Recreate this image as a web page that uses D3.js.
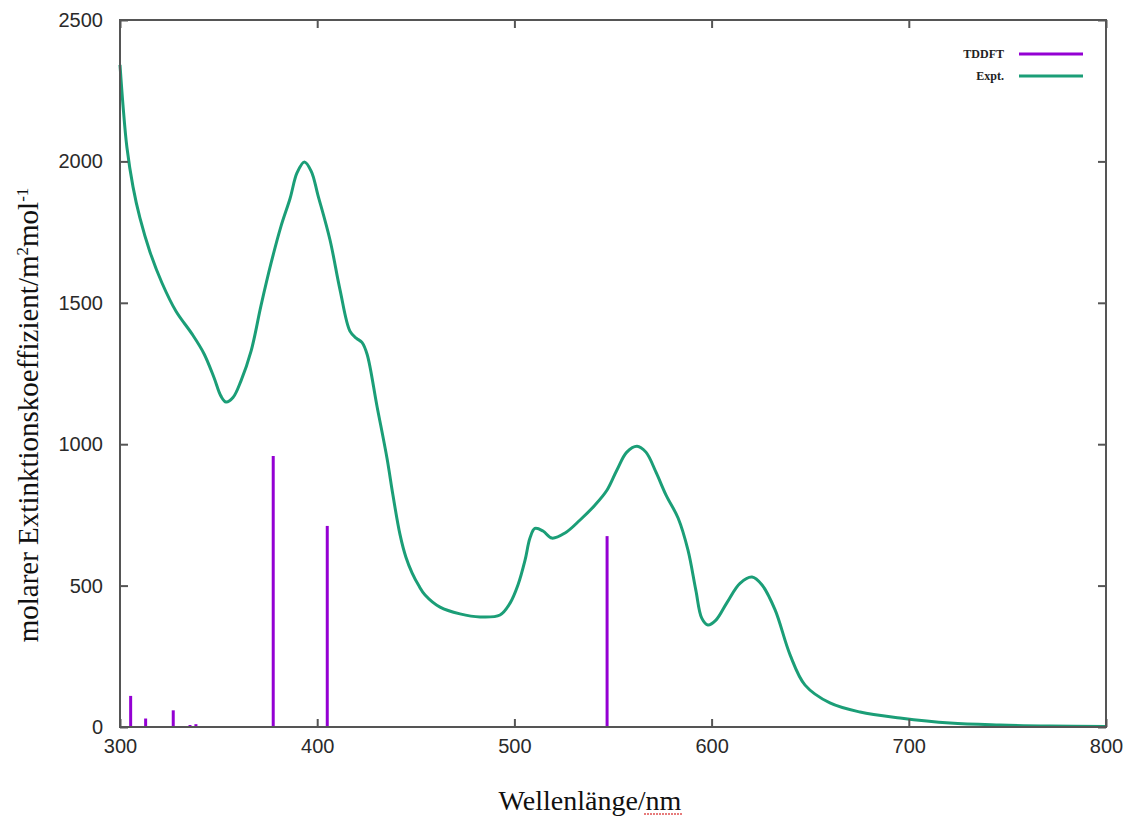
<!DOCTYPE html>
<html><head><meta charset="utf-8">
<script src="https://cdn.jsdelivr.net/npm/d3@7"></script>
<style>body{margin:0;background:#fff}svg{display:block}</style>
</head><body><svg id="c" width="1130" height="816"></svg>
<script>
const xTicks = [300, 400, 500, 600, 700, 800];
const yTicks = [0, 500, 1000, 1500, 2000, 2500];
const exptWavelength = [300,301.5,303.5,306.6,310.1,315.2,321.3,328.4,336.5,342.6,347.7,351.2,353.8,357.3,361.4,366.5,371.5,376.6,381.7,386.2,389.8,393.5,397,400.4,406.5,411.6,416.6,419.8,422.7,425.3,430.3,435.4,438.4,442,445,448.1,451.5,454.7,462.3,472.4,482.6,492.7,497.8,501.8,505.4,507.9,510.4,514.5,519,525.7,533.3,540.9,547,552,557,562.2,566.7,571.8,576.9,583,588,592,595,598.1,602.2,607.8,614.4,620.5,625.6,632.2,639.8,647.4,660,675.3,695.5,720.9,746.2,771.6,800];
const exptValue = [2341,2200,2050,1910,1800,1680,1570,1470,1390,1320,1235,1170,1149,1165,1225,1330,1490,1640,1772,1868,1960,1998,1965,1880,1722,1545,1400,1375,1360,1318,1135,950,820,680,600,545,500,467,424,400,389,396,438,502,590,668,702,693,668,686,732,785,838,909,972,993,972,901,820,739,626,484,385,361,378,440,508,530,502,414,255,148,85,53,32,14,7,3.5,2];
const tddftWavelength = [305.4,313,327,335.5,338.5,348.7,357,366,377.7,405.1,547];
const tddftValue = [110,30,59,7,10,3,2,2,958,711,675];
const legendLabels = ["TDDFT", "Expt."];

const svg = d3.select("#c");
const L = 120, R = 1106, T = 20, B = 727;
const x = d3.scaleLinear().domain([300, 800]).range([L, R]);
const y = d3.scaleLinear().domain([0, 2500]).range([B, T]);
const green = "#1b9e77", purple = "#9400d3", frame = "#555";

// TDDFT sticks
svg.append("g").selectAll("line").data(tddftWavelength.map((w,i)=>({w, v:tddftValue[i]})))
  .join("line")
  .attr("x1", d=>x(d.w)).attr("x2", d=>x(d.w))
  .attr("y1", y(0)).attr("y2", d=>y(d.v))
  .attr("stroke", purple).attr("stroke-width", 3);

// Expt curve
const pts = exptWavelength.map((w,i)=>[w, exptValue[i]]);
svg.append("path").datum(pts)
  .attr("d", d3.line().x(d=>x(d[0])).y(d=>y(d[1])).curve(d3.curveCatmullRom.alpha(0.5)))
  .attr("fill","none").attr("stroke", green).attr("stroke-width", 3);

// Axes (ticks inward on all sides)
const tickFont = "Liberation Sans, Arial, sans-serif";
const gx = svg.append("g").attr("transform", `translate(0,${B})`)
  .call(d3.axisBottom(x).tickValues(xTicks).tickSize(-8).tickPadding(12).tickFormat(d3.format("d")));
const gxt = svg.append("g").attr("transform", `translate(0,${T})`)
  .call(d3.axisTop(x).tickValues(xTicks).tickSize(-8).tickFormat(""));
const gy = svg.append("g").attr("transform", `translate(${L},0)`)
  .call(d3.axisLeft(y).tickValues(yTicks).tickSize(-8).tickPadding(17).tickFormat(d3.format("d")));
const gyr = svg.append("g").attr("transform", `translate(${R},0)`)
  .call(d3.axisRight(y).tickValues(yTicks).tickSize(-8).tickFormat(""));
[gx,gxt,gy,gyr].forEach(g=>{
  g.select(".domain").remove();
  g.selectAll(".tick line").attr("stroke", frame).attr("stroke-width", 2);
  g.selectAll("text").attr("font-family", tickFont).attr("font-size", 20).attr("fill", "#2a2a2a");
});
svg.append("rect").attr("x", L).attr("y", T).attr("width", R-L).attr("height", B-T)
  .attr("fill","none").attr("stroke", frame).attr("stroke-width", 2);

// Legend
const lg = svg.append("g");
[purple, green].forEach((c,i)=>{
  const yy = 54 + i*22;
  lg.append("text").attr("x", 1004).attr("y", yy+4).attr("text-anchor","end")
    .attr("font-family","Liberation Serif, Times New Roman, serif").attr("font-size", 12).attr("font-weight","bold")
    .attr("fill","#222").text(legendLabels[i]);
  lg.append("line").attr("x1", 1019).attr("x2", 1083).attr("y1", yy).attr("y2", yy)
    .attr("stroke", c).attr("stroke-width", 3);
});

// Axis titles
const serif = "Liberation Serif, Times New Roman, serif";
const yt = svg.append("text").attr("transform", "translate(38,415) rotate(-90)")
  .attr("text-anchor","middle").attr("font-family", serif).attr("font-size", 29).attr("fill","#111");
yt.append("tspan").text("molarer Extinktionskoeffizient/m");
yt.append("tspan").attr("dy", -10).attr("font-size", 17).text("2");
yt.append("tspan").attr("dy", 10).text("mol");
yt.append("tspan").attr("dy", -10).attr("font-size", 17).text("-1");

svg.append("text").attr("x", 590).attr("y", 810).attr("text-anchor","middle")
  .attr("font-family", serif).attr("font-size", 28).attr("fill","#111").text("Wellenlänge/nm");
svg.append("line").attr("x1", 644).attr("x2", 682).attr("y1", 814).attr("y2", 814)
  .attr("stroke", "#e05050").attr("stroke-width", 1.5).attr("stroke-dasharray", "2,1");
</script></body></html>
